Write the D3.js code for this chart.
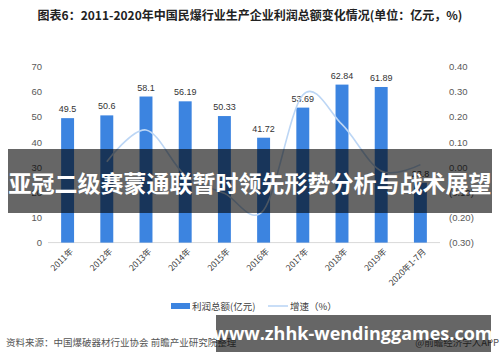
<!DOCTYPE html>
<html>
<head>
<meta charset="utf-8" />
<title>利润总额变化情况</title>
<script src="https://d3js.org/d3.v7.min.js"></script>
<style>
  body { margin: 0; background: #fff; }
  svg { display: block; font-family: "Liberation Sans", "Noto Sans CJK SC", sans-serif; }
</style>
</head>
<body>
<svg width="500" height="362"></svg>
<script>
// data
var years = ["2011年", "2012年", "2013年", "2014年", "2015年", "2016年", "2017年", "2018年", "2019年", "2020年1-7月"];
var profit = [49.5, 50.6, 58.1, 56.19, 50.33, 41.72, 53.69, 62.84, 61.89, 23.8];
var growth = [null, 0.022, 0.148, -0.033, -0.104, -0.171, 0.287, 0.170, -0.015, 0.01];
var leftTicks = [0, 10, 20, 30, 40, 50, 60, 70];
var rightTicks = [-0.3, -0.2, -0.1, 0, 0.1, 0.2, 0.3, 0.4];

var svg = d3.select("svg");
var cjk = "'Noto Sans CJK SC', 'Liberation Sans', sans-serif";

// scales
var x = d3.scaleBand().domain(years).range([48, 440]).paddingInner(0.67).paddingOuter(0.335);
var y = d3.scaleLinear().domain([0, 70]).range([242.6, 66.6]);
var y2 = d3.scaleLinear().domain([-0.3, 0.4]).range([242.6, 66.6]);

// title
svg.append("text")
  .attr("x", 250).attr("y", 20)
  .attr("text-anchor", "middle")
  .style("font-family", cjk)
  .style("font-size", "12px")
  .style("font-weight", "bold")
  .attr("fill", "#222")
  .text("图表6：2011-2020年中国民爆行业生产企业利润总额变化情况(单位：亿元，%)");

// left axis
var gl = svg.append("g")
  .attr("transform", "translate(42,0)")
  .call(d3.axisLeft(y).tickValues(leftTicks).tickSize(0).tickPadding(0));
gl.select(".domain").remove();
gl.selectAll("text").style("font-size", "9.5px").attr("fill", "#595959");

// right axis
function fmt(v) {
  var s = Math.abs(v).toFixed(2);
  return v < -1e-9 ? "(" + s + ")" : s;
}
var gr = svg.append("g")
  .attr("transform", "translate(449,0)")
  .call(d3.axisRight(y2).tickValues(rightTicks).tickFormat(fmt).tickSize(0).tickPadding(0));
gr.select(".domain").remove();
gr.selectAll("text").style("font-size", "9.5px").attr("fill", "#595959");

// baseline
svg.append("line")
  .attr("x1", 48).attr("x2", 440)
  .attr("y1", y(0)).attr("y2", y(0))
  .attr("stroke", "#d9d9d9").attr("stroke-width", 1);

// bars
svg.selectAll(".bar")
  .data(profit)
  .enter()
  .append("rect")
  .attr("class", "bar")
  .attr("x", function (d, i) { return x(years[i]); })
  .attr("y", function (d) { return y(d); })
  .attr("width", x.bandwidth())
  .attr("height", function (d) { return y(0) - y(d); })
  .attr("fill", "#3c84e0");

// value labels
svg.selectAll(".val")
  .data(profit)
  .enter()
  .append("text")
  .attr("class", "val")
  .attr("text-anchor", "middle")
  .attr("x", function (d, i) { return x(years[i]) + x.bandwidth() / 2; })
  .attr("y", function (d) { return y(d) - 6; })
  .style("font-size", "9px")
  .attr("fill", "#333")
  .text(function (d) { return d; });

// growth line
var pts = growth.map(function (g, i) { return { k: years[i], v: g }; })
  .filter(function (d) { return d.v !== null; });
var line = d3.line()
  .x(function (d) { return x(d.k) + x.bandwidth() / 2; })
  .y(function (d) { return y2(d.v); })
  .curve(d3.curveCardinal);
svg.append("path")
  .datum(pts)
  .attr("d", line)
  .attr("fill", "none")
  .attr("stroke", "#bcd6f5")
  .attr("stroke-width", 1.6);

// x labels
svg.selectAll(".xl")
  .data(years)
  .enter()
  .append("text")
  .attr("class", "xl")
  .attr("text-anchor", "end")
  .attr("transform", function (d) {
    return "translate(" + (x(d) + x.bandwidth() / 2 + 4) + ",250) rotate(-45)";
  })
  .attr("dy", "0.35em")
  .style("font-family", cjk)
  .style("font-size", "8.5px")
  .attr("fill", "#404040")
  .text(function (d) { return d; });

// legend
svg.append("rect").attr("x", 171).attr("y", 303).attr("width", 19).attr("height", 6).attr("fill", "#3c84e0");
svg.append("text").attr("x", 192).attr("y", 309.5)
  .style("font-family", cjk).style("font-size", "9.5px").attr("fill", "#404040")
  .text("利润总额(亿元)");
svg.append("line").attr("x1", 268).attr("x2", 288).attr("y1", 306).attr("y2", 306)
  .attr("stroke", "#bcd6f5").attr("stroke-width", 1.6);
svg.append("text").attr("x", 290).attr("y", 309.5)
  .style("font-family", cjk).style("font-size", "9.5px").attr("fill", "#404040")
  .text("增速（%）");

// source
svg.append("text").attr("x", 6).attr("y", 346)
  .style("font-family", cjk).style("font-size", "9.5px").attr("fill", "#555")
  .text("资料来源：中国爆破器材行业协会 前瞻产业研究院整理");
svg.append("text").attr("x", 499).attr("y", 346).attr("text-anchor", "end")
  .style("font-family", cjk).style("font-size", "9.5px").attr("fill", "#555")
  .text("@前瞻经济学人APP");

// banner overlay
svg.append("rect").attr("x", 8).attr("y", 149).attr("width", 484).attr("height", 64)
  .attr("fill", "#000").attr("fill-opacity", 0.6);
svg.append("text").attr("x", 250).attr("y", 192).attr("text-anchor", "middle")
  .style("font-family", cjk).style("font-size", "23px").style("font-weight", "bold")
  .attr("fill", "#fff")
  .text("亚冠二级赛蒙通联暂时领先形势分析与战术展望");

// url overlay
svg.append("rect").attr("x", 216).attr("y", 315).attr("width", 275).attr("height", 37)
  .attr("fill", "#000").attr("fill-opacity", 0.6);
svg.append("text").attr("x", 353).attr("y", 340).attr("text-anchor", "middle")
  .style("font-family", "'Open Sans', 'DejaVu Sans', sans-serif").style("font-size", "18px").style("font-weight", "bold")
  .attr("fill", "#fff")
  .text("www.zhhk-wendinggames.com");
</script>
</body>
</html>
